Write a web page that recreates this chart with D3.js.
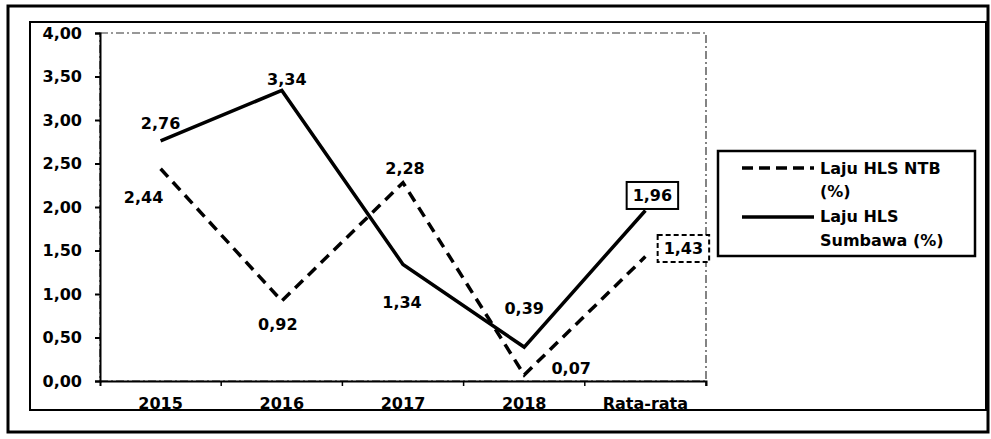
<!DOCTYPE html>
<html><head><meta charset="utf-8">
<script src="https://cdn.jsdelivr.net/npm/d3@7"></script>
<style>body{margin:0;background:#fff}svg{display:block}text{font-family:"DejaVu Sans",Verdana,sans-serif;font-weight:bold;fill:#000}</style>
</head><body><svg width="991" height="439"></svg>
<script>
const categories = ["2015","2016","2017","2018","Rata-rata"];
const ntb = [2.44, 0.92, 2.28, 0.07, 1.43];
const sumbawa = [2.76, 3.34, 1.34, 0.39, 1.96];
const yTicks = [0,0.5,1,1.5,2,2.5,3,3.5,4];
const seriesNames = ["Laju HLS NTB (%)", "Laju HLS Sumbawa (%)"];

const svg = d3.select("svg");
const fmt = v => d3.format(".2f")(v).replace(".", ",");
// frames
svg.append("rect").attr("x",8).attr("y",6).attr("width",980).attr("height",426).attr("fill","none").attr("stroke","#000").attr("stroke-width",3);
svg.append("rect").attr("x",30).attr("y",22).attr("width",956).attr("height",388).attr("fill","none").attr("stroke","#000").attr("stroke-width",2);

const x = d3.scaleBand().domain(categories).range([100,706]);
const y = d3.scaleLinear().domain([0,4]).range([381,33]);
const cx = c => x(c)+x.bandwidth()/2;

// plot area border
svg.append("rect").attr("x",100).attr("y",33).attr("width",606).attr("height",348)
  .attr("fill","none").attr("stroke","#333").attr("stroke-width",1.2).attr("stroke-dasharray","8,3,2,3");

const yAx = svg.append("g").attr("transform","translate(100,0)")
  .call(d3.axisLeft(y).tickValues(yTicks).tickFormat(fmt).tickSize(5).tickPadding(13));
yAx.select(".domain").attr("stroke","#000").attr("stroke-width",2);
yAx.selectAll("text").attr("font-size",16).attr("font-family","DejaVu Sans").attr("font-weight","bold");
yAx.selectAll("line").attr("stroke-width",2);

const xAx = svg.append("g").attr("transform","translate(0,381)")
  .call(d3.axisBottom(x).tickSize(5).tickPadding(12));
xAx.select(".domain").attr("stroke","#000").attr("stroke-width",2);
xAx.selectAll("line").attr("stroke-width",1.5).attr("transform",`translate(${x.bandwidth()/2},0)`);
xAx.selectAll("text").attr("font-size",16).attr("font-family","DejaVu Sans").attr("font-weight","bold");

const line = d3.line().x((d,i)=>cx(categories[i])).y(d=>y(d));
svg.append("path").datum(sumbawa).attr("d",line).attr("fill","none").attr("stroke","#000").attr("stroke-width",3.5);
svg.append("path").datum(ntb).attr("d",line).attr("fill","none").attr("stroke","#000").attr("stroke-width",3.5).attr("stroke-dasharray","11,7");

// labels: offsets relative to points
const sOff = [[0,-17],[5,-11],[-1,38],[0,-39],[7,-15]];
const nOff = [[-17,29],[-4,24],[2,-14],[47,-6],[38,-8]];
function labels(data, off, boxDash){
  data.forEach((v,i)=>{
    const px = cx(categories[i])+off[i][0], py = y(v)+off[i][1];
    const t = svg.append("text").attr("x",px).attr("y",py).attr("text-anchor","middle").attr("dominant-baseline","central").attr("font-size",16).text(fmt(v));
    if(i===4){
      const bb = t.node().getBBox();
      svg.append("rect").attr("x",bb.x-6).attr("y",bb.y-4).attr("width",bb.width+12).attr("height",bb.height+8)
        .attr("fill","#fff").attr("stroke","#000").attr("stroke-width",2).attr("stroke-dasharray",boxDash);
      t.raise();
    }
  });
}
labels(sumbawa, sOff, null);
labels(ntb, nOff, "5,3");

// legend
const lg = svg.append("g");
lg.append("rect").attr("x",718).attr("y",151).attr("width",257).attr("height",105).attr("fill","#fff").attr("stroke","#000").attr("stroke-width",2.5);
lg.append("line").attr("x1",742).attr("x2",814).attr("y1",168).attr("y2",168).attr("stroke","#000").attr("stroke-width",3.5).attr("stroke-dasharray","11,6");
lg.append("line").attr("x1",742).attr("x2",814).attr("y1",217).attr("y2",217).attr("stroke","#000").attr("stroke-width",3.5);
const lt1 = lg.append("text").attr("x",820).attr("y",168).attr("font-size",16).attr("dominant-baseline","central");
lt1.append("tspan").text("Laju HLS NTB");
lt1.append("tspan").attr("x",820).attr("dy",23).text("(%)");
const lt2 = lg.append("text").attr("x",820).attr("y",216).attr("font-size",16).attr("dominant-baseline","central");
lt2.append("tspan").text("Laju HLS");
lt2.append("tspan").attr("x",820).attr("dy",24).text("Sumbawa (%)");
</script></body></html>
